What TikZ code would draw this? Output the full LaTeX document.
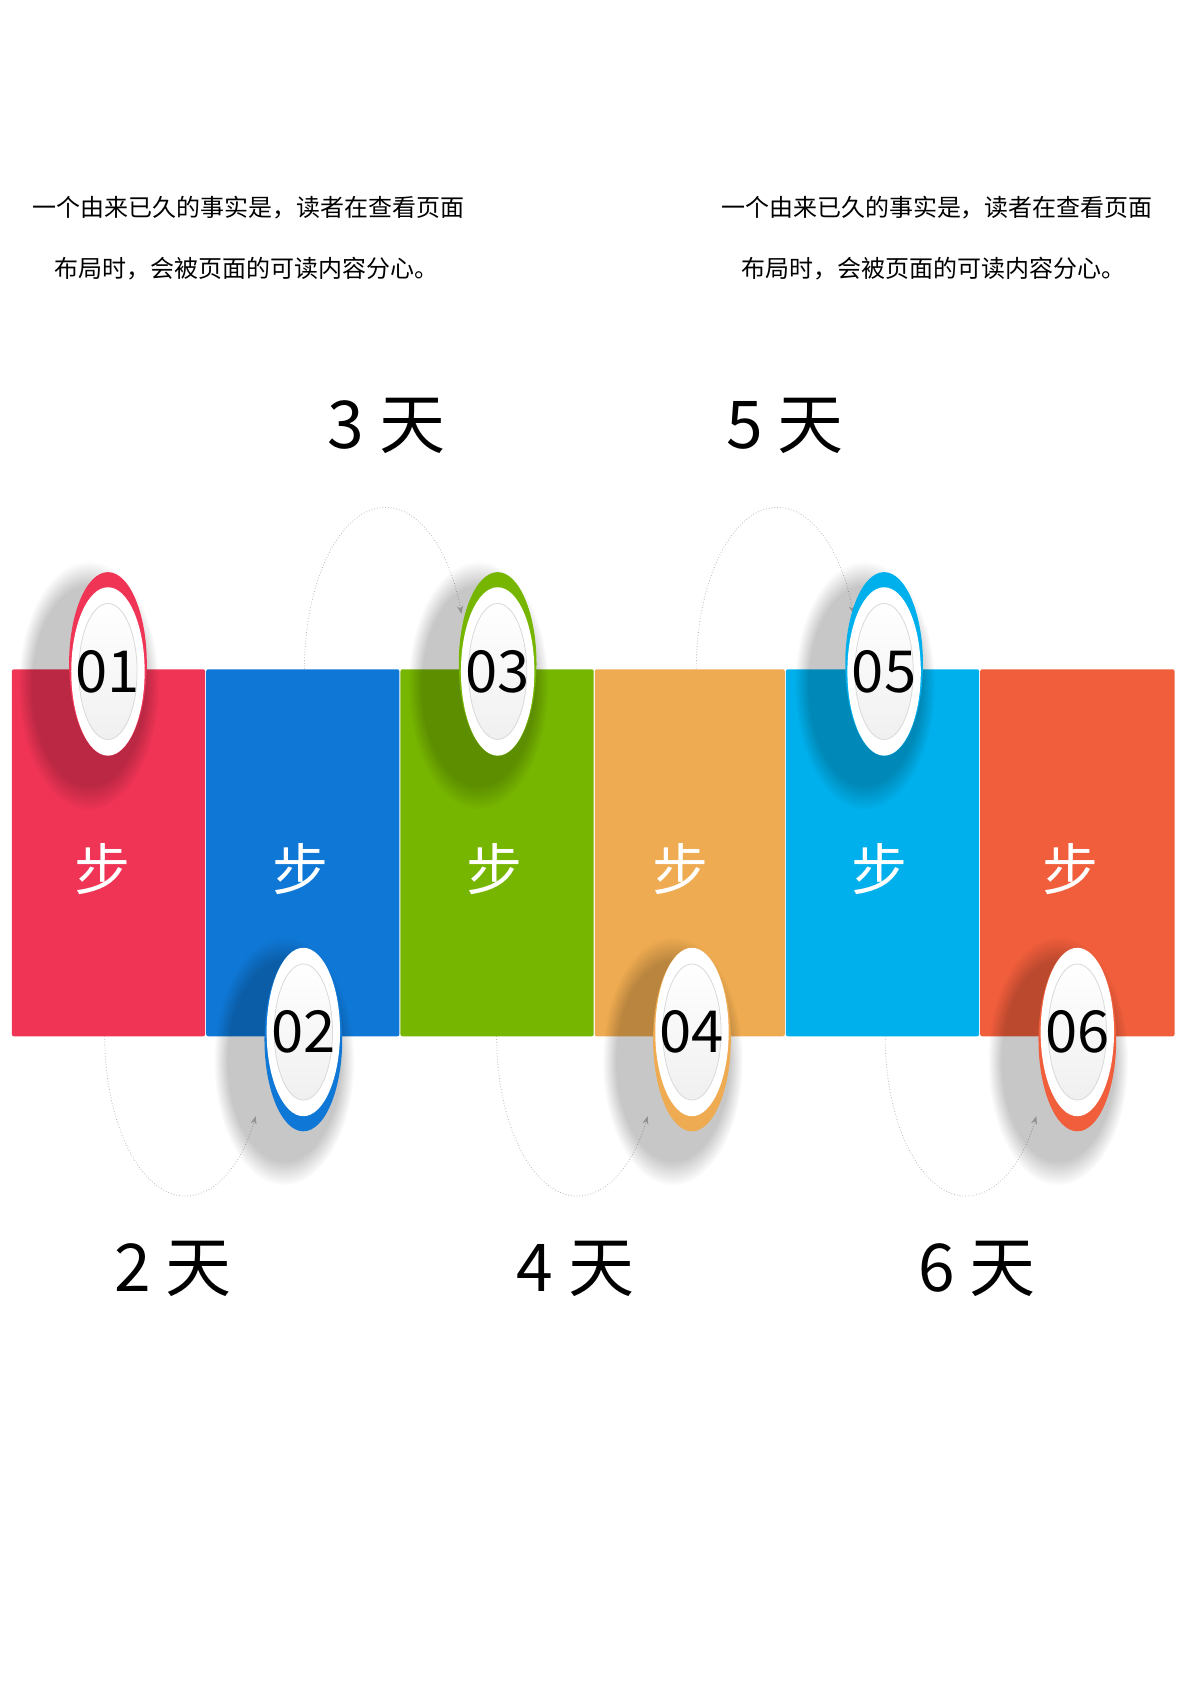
\documentclass[tikz,border=0pt]{standalone}
\usepackage{fontspec}
\setmainfont{Noto Sans CJK SC}
\usetikzlibrary{arrows.meta,fadings}

\definecolor{stepred}{HTML}{EF3456}
\definecolor{stepblue}{HTML}{0F78D6}
\definecolor{stepgreen}{HTML}{77B600}
\definecolor{steporange}{HTML}{EEAB51}
\definecolor{stepcyan}{HTML}{00B0EC}
\definecolor{stepflame}{HTML}{F05E3C}

\begin{document}
\begin{tikzpicture}[x=0.54pt,y=-0.54pt,
    bar/.style={rounded corners=1pt},
    arcline/.style={gray!55,densely dotted,line width=0.4pt},
    stepword/.style={white,font=\fontsize{28}{30}\selectfont},
    badgenum/.style={font=\fontsize{29}{32}\selectfont},
    daylabel/.style={font=\fontsize{33}{36}\selectfont},
    note/.style={font=\fontsize{12}{14}\selectfont}]
  \useasboundingbox (0,0) rectangle (1103,1560);
  %%%% the notes on top
  \node[note] (noteL1) at (230,192) {一个由来已久的事实是，读者在查看页面};
  \node[note] (noteL2) at (228,249) {布局时，会被页面的可读内容分心。};
  \node[note] (noteR1) at (868,192) {一个由来已久的事实是，读者在查看页面};
  \node[note] (noteR2) at (865,249) {布局时，会被页面的可读内容分心。};
  %%%% the days
  \foreach \d/\x/\y in {2/160/1175,3/358/395,4/533/1175,5/727/395,6/905/1175}
    \node[daylabel] (day\d) at (\x,\y) {\d\ 天};
  %% dotted arcs, above and below
  \foreach \cx in {357,720}
    \draw[arcline,-{Stealth[length=4pt]}] (\cx-75,620) arc[start angle=180,end angle=340,x radius=75,y radius=150];
  \foreach \cx in {172,535,895}
    \draw[arcline,-{Stealth[length=4pt]}] (\cx-75,960) arc[start angle=180,end angle=30,x radius=75,y radius=148];
  %%%% the bars
  \foreach \xa/\xb/\col/\xs/\n in {11/190/stepred/95/1,191/370/stepblue/278/2,371/550/stepgreen/458/3,
                                   551/727/steporange/630/4,728/907/stepcyan/815/5,908/1088/stepflame/992/6}
  {
    \fill[\col,bar] (\xa,620) rectangle (\xb,960);
    \node[stepword] (step\n) at (\xs,805) {步};
  }
  %%%% the badges (\s: 1 = top, -1 = bottom)
  \foreach \n/\x/\y/\col/\s in {01/100/615/stepred/1,02/281/963/stepblue/-1,03/461/615/stepgreen/1,
                                04/641/963/steporange/-1,05/819/615/stepcyan/1,06/998/963/stepflame/-1}
  {
    \fill[black,opacity=.22,path fading=circle with fuzzy edge 20 percent] (\x-18,\y+20) ellipse [x radius=65,y radius=115];
    \fill[\col] (\x,\y) ellipse [x radius=36,y radius=85];
    \fill[white] (\x,\y+7*\s) ellipse [x radius=34,y radius=78];
    \shadedraw[top color=white,bottom color=gray!12,draw=gray!30] (\x,\y+7*\s) ellipse [x radius=27,y radius=63];
    \node[badgenum] (badge\n) at (\x,\y+7*\s) {\n};
  }
\end{tikzpicture}
\end{document}
